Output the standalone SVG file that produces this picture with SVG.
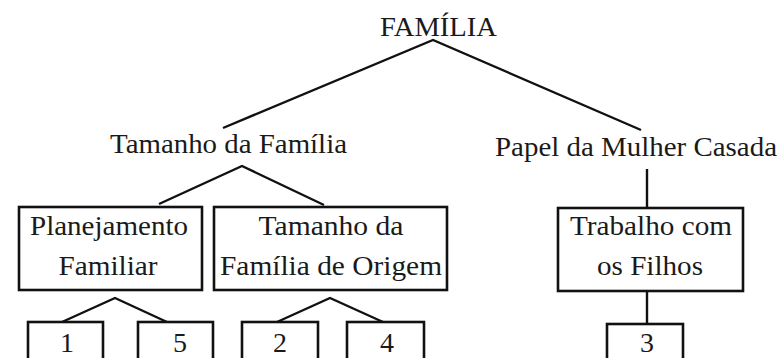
<svg xmlns="http://www.w3.org/2000/svg" width="783" height="358" viewBox="0 0 783 358">
<style>
  .bg { fill: #ffffff; }
  .box { fill: #ffffff; stroke: #111111; stroke-width: 2.6; }
  .edge { fill: none; stroke: #111111; stroke-width: 2.4; stroke-linecap: butt; stroke-linejoin: miter; }
  .t { font-family: "Liberation Serif", "Times New Roman", serif; font-size: 28px; fill: #1a1a1a; text-anchor: middle; }
</style>
<rect class="bg" x="0" y="0" width="783" height="358"/>
<g id="connectors">
  <polyline class="edge" points="223,128 433,40 641,130"/>
  <polyline class="edge" points="159,204 242,166 324,205"/>
  <line class="edge" x1="647" y1="169" x2="647" y2="208"/>
  <polyline class="edge" points="62,322 115,298 167,322"/>
  <polyline class="edge" points="277,322 330,298 383,322"/>
  <line class="edge" x1="647" y1="291" x2="647" y2="324"/>
</g>
<g id="node-familia">
  <text class="t" x="438.5" y="36" textLength="117" lengthAdjust="spacingAndGlyphs">FAMÍLIA</text>
</g>
<g id="node-tamanho-familia">
  <text class="t" x="228.5" y="153" textLength="237" lengthAdjust="spacingAndGlyphs">Tamanho da Família</text>
</g>
<g id="node-papel-mulher">
  <text class="t" x="636" y="156" textLength="282" lengthAdjust="spacingAndGlyphs">Papel da Mulher Casada</text>
</g>
<g id="node-planejamento">
  <rect class="box" x="19" y="207" width="183" height="83"/>
  <text class="t" x="109" y="235" textLength="158" lengthAdjust="spacingAndGlyphs">Planejamento</text>
  <text class="t" x="108" y="275" textLength="99" lengthAdjust="spacingAndGlyphs">Familiar</text>
</g>
<g id="node-tamanho-origem">
  <rect class="box" x="214" y="207" width="233" height="83"/>
  <text class="t" x="331" y="235" textLength="145" lengthAdjust="spacingAndGlyphs">Tamanho da</text>
  <text class="t" x="331" y="275" textLength="222" lengthAdjust="spacingAndGlyphs">Família de Origem</text>
</g>
<g id="node-trabalho">
  <rect class="box" x="558" y="208" width="185" height="83"/>
  <text class="t" x="651" y="235" textLength="162" lengthAdjust="spacingAndGlyphs">Trabalho com</text>
  <text class="t" x="650" y="275" textLength="106" lengthAdjust="spacingAndGlyphs">os Filhos</text>
</g>
<g id="node-1">
  <rect class="box" x="28" y="322" width="75" height="45"/>
  <text class="t" x="67" y="352">1</text>
</g>
<g id="node-5">
  <rect class="box" x="138" y="322" width="75" height="45"/>
  <text class="t" x="180" y="352">5</text>
</g>
<g id="node-2">
  <rect class="box" x="242" y="322" width="76" height="45"/>
  <text class="t" x="280" y="352">2</text>
</g>
<g id="node-4">
  <rect class="box" x="347" y="322" width="77" height="45"/>
  <text class="t" x="387" y="352">4</text>
</g>
<g id="node-3">
  <rect class="box" x="607" y="324" width="76" height="45"/>
  <text class="t" x="647" y="352">3</text>
</g>
</svg>
